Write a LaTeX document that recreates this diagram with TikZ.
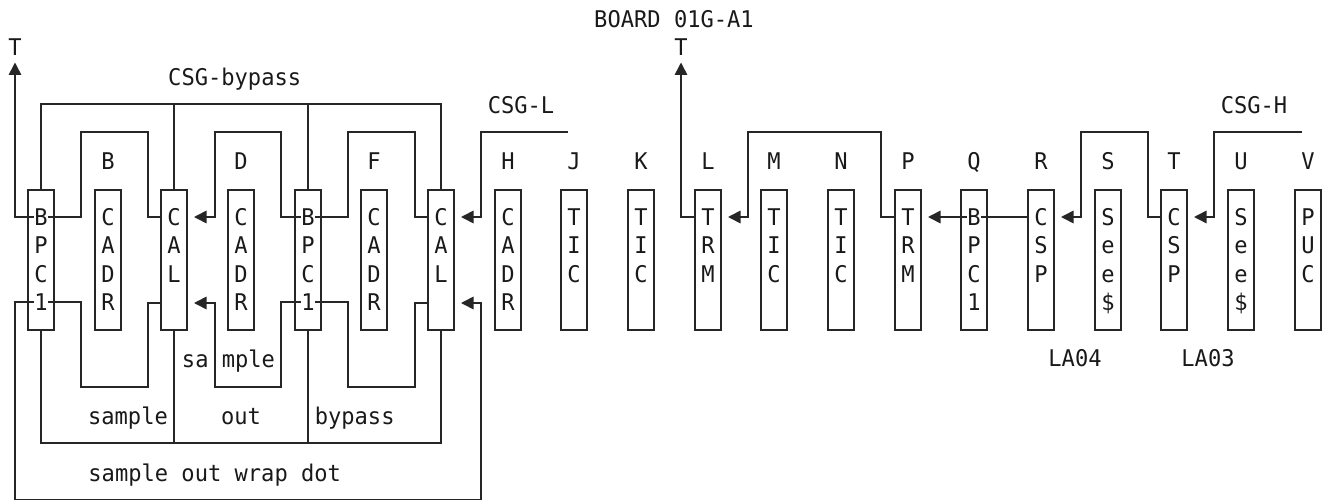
\documentclass[tikz,border=0pt]{standalone}
\usepackage{fontspec}
\setmonofont[FakeStretch=0.96]{DejaVu Sans Mono}
\usepackage{tikz}
\usetikzlibrary{arrows.meta}

\tikzset{
  plain/.style={font=\ttfamily\fontsize{23}{27}\selectfont, inner sep=0pt, text height=16.8pt, text depth=0pt, text=black!90},
  cardframe/.style={draw=black!85, line width=1.6pt, minimum width=26pt, minimum height=140pt, inner sep=0pt, outer sep=0pt},
  wire/.style={draw=black!85, line width=1.6pt},
  arrowwire/.style={wire, -{Triangle[length=12.5pt,width=12.5pt]}},
}

% one card: name, x, slot letter, letters
\newcommand{\cardbox}[4]{
  \node[cardframe] (#1) at (#2,260) {};
  \node[plain] (#1-slot) at (#2,161) {#3};
  \foreach \ch [count=\i] in {#4} {
    \node[plain] (#1-\i) at (#2,{217+28.4*(\i-1)}) {\ch};
  }
  \coordinate (#1-wt) at (#1.west |- rowtop);
  \coordinate (#1-wb) at (#1.west |- rowbot);
  \coordinate (#1-at) at ([xshift=7pt]#1.east |- rowtop);
  \coordinate (#1-ab) at ([xshift=7pt]#1.east |- rowbot);
}

\begin{document}
\begin{tikzpicture}[x=1pt, y=-1pt]
  \useasboundingbox (0,0) rectangle (1324,500);

  % Rows the pins sit on
  \coordinate (rowtop) at (0,217);
  \coordinate (rowbot) at (0,303);

  % Cards
  \cardbox{bpca}{41}{}{B,P,C,1}
  \cardbox{cadb}{108}{B}{C,A,D,R}
  \cardbox{cala}{174}{}{C,A,L}
  \cardbox{cadd}{241}{D}{C,A,D,R}
  \cardbox{bpcb}{308}{}{B,P,C,1}
  \cardbox{cadf}{374}{F}{C,A,D,R}
  \cardbox{calb}{441}{}{C,A,L}
  \cardbox{cadh}{508}{H}{C,A,D,R}
  \cardbox{ticj}{574}{J}{T,I,C}
  \cardbox{tick}{641}{K}{T,I,C}
  \cardbox{trml}{708}{L}{T,R,M}
  \cardbox{ticm}{774}{M}{T,I,C}
  \cardbox{ticn}{841}{N}{T,I,C}
  \cardbox{trmp}{908}{P}{T,R,M}
  \cardbox{bpcq}{974}{Q}{B,P,C,1}
  \cardbox{cspr}{1041}{R}{C,S,P}
  \cardbox{sees}{1108}{S}{S,e,e,\$}
  \cardbox{cspt}{1174}{T}{C,S,P}
  \cardbox{seeu}{1241}{U}{S,e,e,\$}
  \cardbox{pucv}{1308}{V}{P,U,C}

  % Labels
  \node[plain] (board) at (674,19) {BOARD 01G-A1};
  \node[plain] (tleft) at (15,47) {T};
  \node[plain] (tmid) at (681,47) {T};
  \node[plain] (bypasstop) at (234.7,77) {CSG-bypass};
  \node[plain] (csgl) at (521,105) {CSG-L};
  \node[plain] (csgh) at (1254,105) {CSG-H};
  \node[plain] (la04) at (1075,358) {LA04};
  \node[plain] (la03) at (1208,358) {LA03};
  \node[plain] (sampleD) at (228.5,359) {sa mple};
  \node[plain] (samplea) at (128,416) {sample};
  \node[plain] (outa) at (241,416) {out};
  \node[plain] (bypassa) at (354.7,416) {bypass};
  \node[plain] (wrapdot) at (214.7,473) {sample out wrap dot};

  % Turning points of the wires
  \coordinate (ttipl) at (15,62.5);
  \coordinate (ttipm) at (681,62.5);
  \coordinate (bustop) at (0,104);
  \coordinate (busbot) at (0,443);
  \coordinate (wrapl) at (15,499.5);
  \coordinate (wrapr) at (481,499.5);
  \coordinate (csglend) at (568,132);
  \coordinate (csgltop) at (481,132);
  \coordinate (csghend) at (1302,132);
  \coordinate (csghtop) at (1214,132);

  % Upper and lower U's between the cards
  \foreach \nm/\xa/\xb in {b/81/148, d/215/281, f/348/415, m/748/881, s/1081/1148} {
    \coordinate (\nm-tl) at (\xa,132);
    \coordinate (\nm-tr) at (\xb,132);
    \coordinate (\nm-bl) at (\xa,387);
    \coordinate (\nm-br) at (\xb,387);
  }

  % Pins to T
  \draw[arrowwire] (bpca-1.west) -| (ttipl);
  \draw[arrowwire] (trml-wt) -| (ttipm);

  % CSG-bypass bus
  \draw[wire] (bpca.north) |- (bustop -| calb.north) -- (calb.north);
  \draw[wire] (cala.north) -- (cala.north |- bustop);
  \draw[wire] (bpcb.north) -- (bpcb.north |- bustop);

  % Bottom bus
  \draw[wire] (bpca.south) |- (busbot -| calb.south) -- (calb.south);
  \draw[wire] (cala.south) -- (cala.south |- busbot);
  \draw[wire] (bpcb.south) -- (bpcb.south |- busbot);

  % Top row wires
  \draw[wire] (bpca-1.east) -| (b-tl) -- (b-tr) |- (cala-wt);
  \draw[arrowwire] (bpcb-1.west) -| (d-tr) -- (d-tl) |- (cala-at);
  \draw[wire] (bpcb-1.east) -| (f-tl) -- (f-tr) |- (calb-wt);
  \draw[arrowwire] (csglend) -- (csgltop) |- (calb-at);
  \draw[arrowwire] (trmp-wt) -| (m-tr) -- (m-tl) |- (trml-at);
  \draw[arrowwire] (bpcq-1.west) -- (trmp-at);
  \draw[wire] (bpcq-1.east) -- (cspr-wt);
  \draw[arrowwire] (cspt-wt) -| (s-tr) -- (s-tl) |- (cspr-at);
  \draw[arrowwire] (csghend) -- (csghtop) |- (cspt-at);

  % Bottom row wires
  \draw[wire] (bpca-4.east) -| (b-bl) -- (b-br) |- (cala-wb);
  \draw[arrowwire] (bpcb-4.west) -| (d-br) -- (d-bl) |- (cala-ab);
  \draw[wire] (bpcb-4.east) -| (f-bl) -- (f-br) |- (calb-wb);
  \draw[arrowwire] (bpca-4.west) -| (wrapl) -- (wrapr) |- (calb-ab);
\end{tikzpicture}
\end{document}
